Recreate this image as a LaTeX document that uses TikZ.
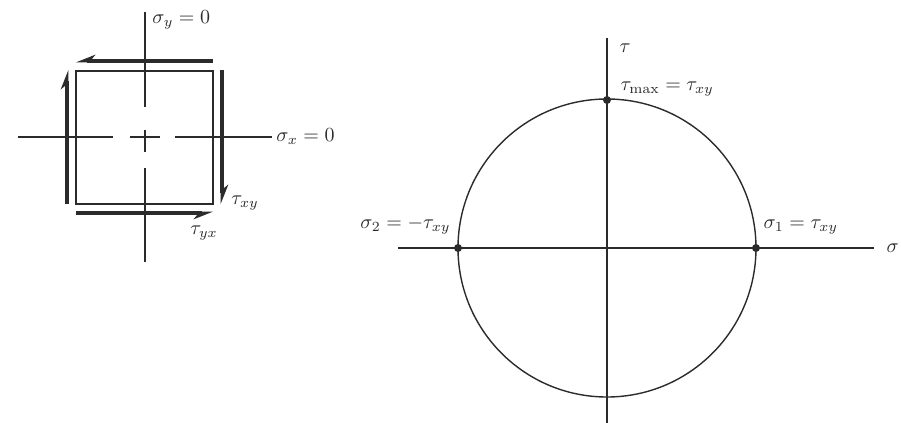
\documentclass[tikz,border=0pt]{standalone}
\usepackage{amsmath,amssymb}
\usepackage{xcolor}
\usepackage{tikz}
\usetikzlibrary{calc,arrows.meta,positioning}
\definecolor{inkx}{HTML}{2B2B2B}
\tikzset{
  ax/.style={inkx,line width=0.6pt},
  sh/.style={inkx,line width=1.6pt,-{Stealth[harpoon,length=2.8mm,width=2.2mm]}},
  shs/.style={inkx,line width=1.6pt,-{Stealth[harpoon,swap,length=2.8mm,width=2.2mm]}},
  lab/.style={inkx,inner sep=1pt},
  pt/.style={circle,fill=inkx,inner sep=0pt,minimum size=4pt}
}
\begin{document}
\begin{tikzpicture}[x=0.5pt,y=-0.5pt]
\useasboundingbox (0,0) rectangle (901,423);
% element
\draw[inkx,line width=0.8pt] (76,71) rectangle (213,204);
\draw[ax] (18,137)--(113,137) (130,137)--(160,137) (175,137)--(272,137);
\draw[ax] (145,12)--(145,107) (145,130)--(145,152) (145,168)--(145,262);
\coordinate (tl) at (76,61); \coordinate (tr) at (213,61);
\coordinate (bl) at (76,213); \coordinate (br) at (213,213);
\coordinate (lb) at (67,204); \coordinate (lt) at (67,70);
\coordinate (rt) at (222,70); \coordinate (rb) at (222,204);
\draw[shs] (tr)--(tl);
\draw[sh] (lb)--(lt);
\draw[sh] (rt)--(rb);
\draw[shs] (bl)--(br);
\node[lab,anchor=west] (sy) at (150,20) {$\sigma_y = 0$};
\node[lab,anchor=west] (sx) at (274,137) {$\sigma_x = 0$};
\node[lab,anchor=west] (txy) at (229,203) {$\tau_{xy}$};
\node[lab] (tyx) at (204,233) {$\tau_{yx}$};
% Mohr circle
\coordinate (O) at (607,248);
\draw[ax] (398,248)--(874,248) node[lab,right=5pt] (sig) {$\sigma$};
\draw[ax] (607,423)--(607,38) node[lab,anchor=west,xshift=5pt,yshift=-5pt] (tau) {$\tau$};
\draw[inkx,line width=0.7pt] (O) circle (149);
\node[pt] (top) at (607,100) {};
\node[pt] (s2) at (458,248) {};
\node[pt] (s1) at (756,248) {};
\node[lab,above right=-1pt and 4pt of top] (tmax) {$\tau_{\max} = \tau_{xy}$};
\node[lab,above left=4pt and 1pt of s2] (l2) {$\sigma_2 = -\tau_{xy}$};
\node[lab,above right=4pt and 1pt of s1] (l1) {$\sigma_1 = \tau_{xy}$};
\end{tikzpicture}
\end{document}
